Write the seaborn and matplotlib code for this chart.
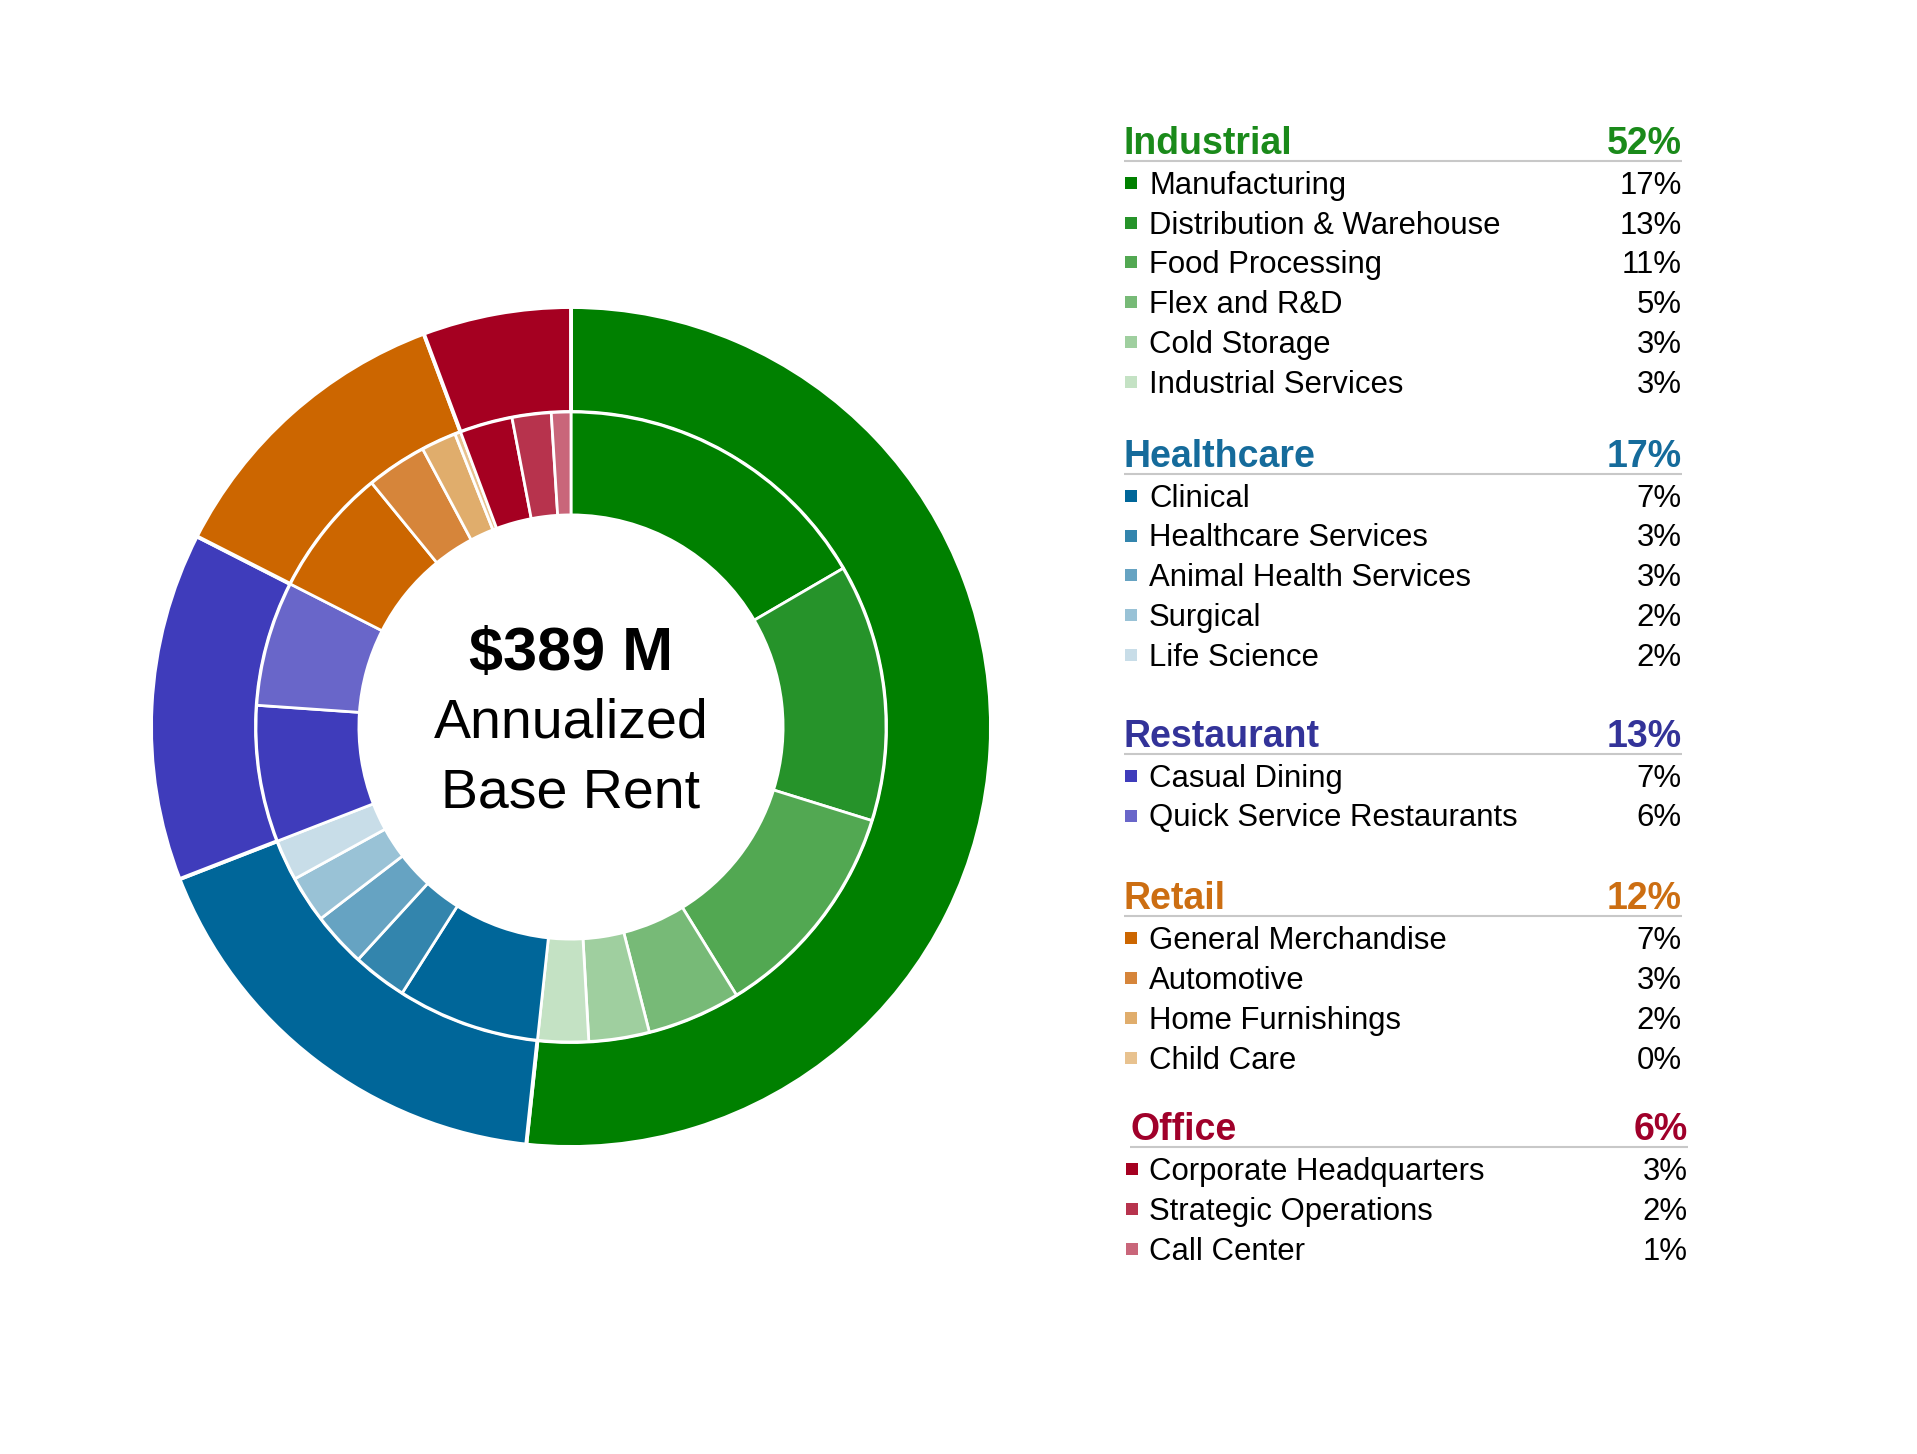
import matplotlib.pyplot as plt
import seaborn as sns

# Annualized base rent by property type (percent)
groups = ["Industrial", "Healthcare", "Restaurant", "Retail", "Office"]
group_values = [51.7, 17.4, 13.4, 11.8, 5.7]
group_colors = ["#008000", "#006699", "#3f3cbb", "#cc6600", "#a50021"]
header_colors = ["#1a8a1a", "#156b9b", "#333399", "#cc6e12", "#a0002a"]

industrial_names = ["Manufacturing", "Distribution & Warehouse", "Food Processing",
                    "Flex and R&D", "Cold Storage", "Industrial Services"]
industrial_values = [16.6, 13.2, 11.4, 4.8, 3.1, 2.6]
industrial_colors = ["#008000", "#26932a", "#52a852", "#77ba77", "#9fcf9f", "#c4e2c4"]

healthcare_names = ["Clinical", "Healthcare Services", "Animal Health Services",
                    "Surgical", "Life Science"]
healthcare_values = [7.3, 2.8, 2.8, 2.4, 2.1]
healthcare_colors = ["#006699", "#3385ad", "#66a3c2", "#99c2d6", "#c8dde8"]

restaurant_names = ["Casual Dining", "Quick Service Restaurants"]
restaurant_values = [7.0, 6.4]
restaurant_colors = ["#3f3cbb", "#6966c9"]

retail_names = ["General Merchandise", "Automotive", "Home Furnishings", "Child Care"]
retail_values = [6.6, 3.1, 1.8, 0.3]
retail_colors = ["#cc6600", "#d6853a", "#e0ad6c", "#e8c28f"]

office_names = ["Corporate Headquarters", "Strategic Operations", "Call Center"]
office_values = [2.7, 2.0, 1.0]
office_colors = ["#a50021", "#b7334d", "#c9667a"]

sub_names = [industrial_names, healthcare_names, restaurant_names, retail_names, office_names]
sub_values = [industrial_values, healthcare_values, restaurant_values, retail_values, office_values]
sub_colors = [industrial_colors, healthcare_colors, restaurant_colors, retail_colors, office_colors]

center_lines = ["$389 M", "Annualized", "Base Rent"]

sns.set_theme(style="white")
plt.rcParams['font.family'] = ['Liberation Sans', 'DejaVu Sans']

W, H = 1917, 1454
fig = plt.figure(figsize=(W / 100, H / 100), dpi=100)
fig.patch.set_facecolor('white')

# donut: outer ring = groups, inner ring = subcategories
cx, cy, r = 571, 727, 420
ax = fig.add_axes([(cx - r) / W, (H - cy - r) / H, 2 * r / W, 2 * r / H])
ax.pie(group_values, radius=1, colors=group_colors, startangle=90, counterclock=False,
       wedgeprops=dict(width=0.25, edgecolor='white', linewidth=2.8))
inner_vals = [v for vals in sub_values for v in vals]
inner_cols = [c for cols in sub_colors for c in cols]
ax.pie(inner_vals, radius=0.75, colors=inner_cols, startangle=90, counterclock=False,
       wedgeprops=dict(width=0.245, edgecolor='white', linewidth=2.0))
ax.set_xlim(-1.0, 1.0)
ax.set_ylim(-1.0, 1.0)
ax.set_aspect('equal')
ax.axis('off')

# overlay in pixel coordinates for text
ov = fig.add_axes([0, 0, 1, 1])
ov.set_xlim(0, W)
ov.set_ylim(H, 0)
ov.axis('off')

ov.text(cx, 670, center_lines[0], ha='center', va='baseline', fontsize=44, fontweight='bold', color='black')
ov.text(cx, 737, center_lines[1], ha='center', va='baseline', fontsize=40, color='black')
ov.text(cx, 807, center_lines[2], ha='center', va='baseline', fontsize=40, color='black')

header_y = [140.6, 453.6, 733.6, 896, 1127]
x_shift = [0, 0, 0, 0, 6]
step = 39.9
for i, g in enumerate(groups):
    hy = header_y[i]
    dx = x_shift[i]
    left, right = 1124 + dx, 1682 + dx
    ov.text(left, hy + 13.4, g, ha='left', va='baseline', fontsize=27, fontweight='bold',
            color=header_colors[i])
    ov.text(right, hy + 13.4, f"{group_values[i]:.0f}%", ha='right', va='baseline', fontsize=27,
            fontweight='bold', color=header_colors[i])
    ov.plot([left, right], [hy + 20, hy + 20], color='#c8c8c8', lw=1.5, solid_capstyle='butt')
    for j, name in enumerate(sub_names[i]):
        iy = hy + 42 + j * step
        ov.scatter([1131 + dx * 0.2], [iy], marker='s', s=80, color=sub_colors[i][j], linewidths=0)
        ov.text(1149, iy + 11, name, ha='left', va='baseline', fontsize=22.4, color='black')
        ov.text(right, iy + 11, f"{sub_values[i][j]:.0f}%", ha='right', va='baseline',
                fontsize=22.4, color='black')

fig.savefig('out.png', dpi=100, facecolor='white')
